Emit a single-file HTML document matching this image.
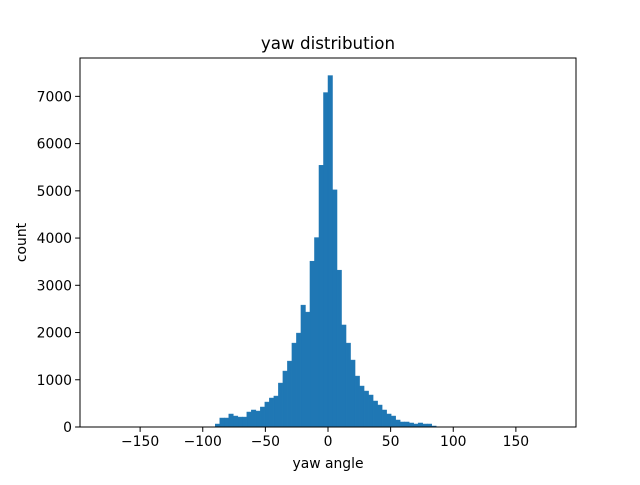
<!DOCTYPE html>
<html><head><meta charset="utf-8"><style>body{margin:0;background:#fff}svg text{font-family:"DejaVu Sans","Liberation Sans",sans-serif;fill:#000}</style></head>
<body>
<svg id="chart" width="640" height="480">
<rect width="640" height="480" fill="#fff"/>
<g id="bars"></g>
<rect x="80" y="58" width="496" height="369" fill="none" stroke="#000" stroke-width="1"/>
<g id="axes"></g>
<text x="328" y="49" font-size="16.7" text-anchor="middle">yaw distribution</text>
<text x="328" y="468" font-size="13.9" text-anchor="middle">yaw angle</text>
<text transform="translate(26,242.5) rotate(-90)" font-size="13.9" text-anchor="middle">count</text>
</svg>
<script>
const binStart = -90;
const binWidth = 3.6;
const counts = [63,190,190,275,232,210,210,317,360,338,423,528,613,655,930,1184,1395,1776,1988,2580,2432,3510,4010,5540,7080,
7440,5020,3320,2160,1776,1417,1078,867,761,677,550,465,360,275,232,148,106,106,85,63,85,63,63,21];
const xTicks = [-150,-100,-50,0,50,100,150];
const yTicks = [0,1000,2000,3000,4000,5000,6000,7000];
const xMin=-198, xMax=198, yMax=7812;
const L=80,R=576,T=58,B=427;
const sx=v=>L+(v-xMin)/(xMax-xMin)*(R-L);
const sy=v=>B-v/yMax*(B-T);
const NS="http://www.w3.org/2000/svg";
const bars=document.getElementById('bars');
counts.forEach((c,i)=>{
  const x0=sx(binStart+i*binWidth), x1=sx(binStart+(i+1)*binWidth);
  const r=document.createElementNS(NS,'rect');
  r.setAttribute('x',x0);r.setAttribute('width',x1-x0);
  r.setAttribute('y',sy(c));r.setAttribute('height',B-sy(c));
  r.setAttribute('fill','#1f77b4');
  r.setAttribute('stroke','#1f77b4');
  r.setAttribute('stroke-width','0.5');
  
  
  bars.appendChild(r);
});
const ax=document.getElementById('axes');
xTicks.forEach(t=>{
  const x=sx(t);
  const l=document.createElementNS(NS,'line');
  l.setAttribute('x1',x);l.setAttribute('x2',x);l.setAttribute('y1',B);l.setAttribute('y2',B+4.9);l.setAttribute('stroke','#000');
  
  
  ax.appendChild(l);
  const tx=document.createElementNS(NS,'text');
  tx.setAttribute('x',x);tx.setAttribute('y',B+19);tx.setAttribute('font-size','13.9');tx.setAttribute('text-anchor','middle');
  tx.textContent=(t<0?'\u2212':'')+Math.abs(t);
  
  
  ax.appendChild(tx);
});
yTicks.forEach(t=>{
  const y=sy(t);
  const l=document.createElementNS(NS,'line');
  l.setAttribute('x1',L-4.9);l.setAttribute('x2',L);l.setAttribute('y1',y);l.setAttribute('y2',y);l.setAttribute('stroke','#000');
  
  
  ax.appendChild(l);
  const tx=document.createElementNS(NS,'text');
  tx.setAttribute('x',L-8);tx.setAttribute('y',y+5);tx.setAttribute('font-size','13.9');tx.setAttribute('text-anchor','end');
  tx.textContent=t;
  
  
  ax.appendChild(tx);
});
</script>
</body></html>
